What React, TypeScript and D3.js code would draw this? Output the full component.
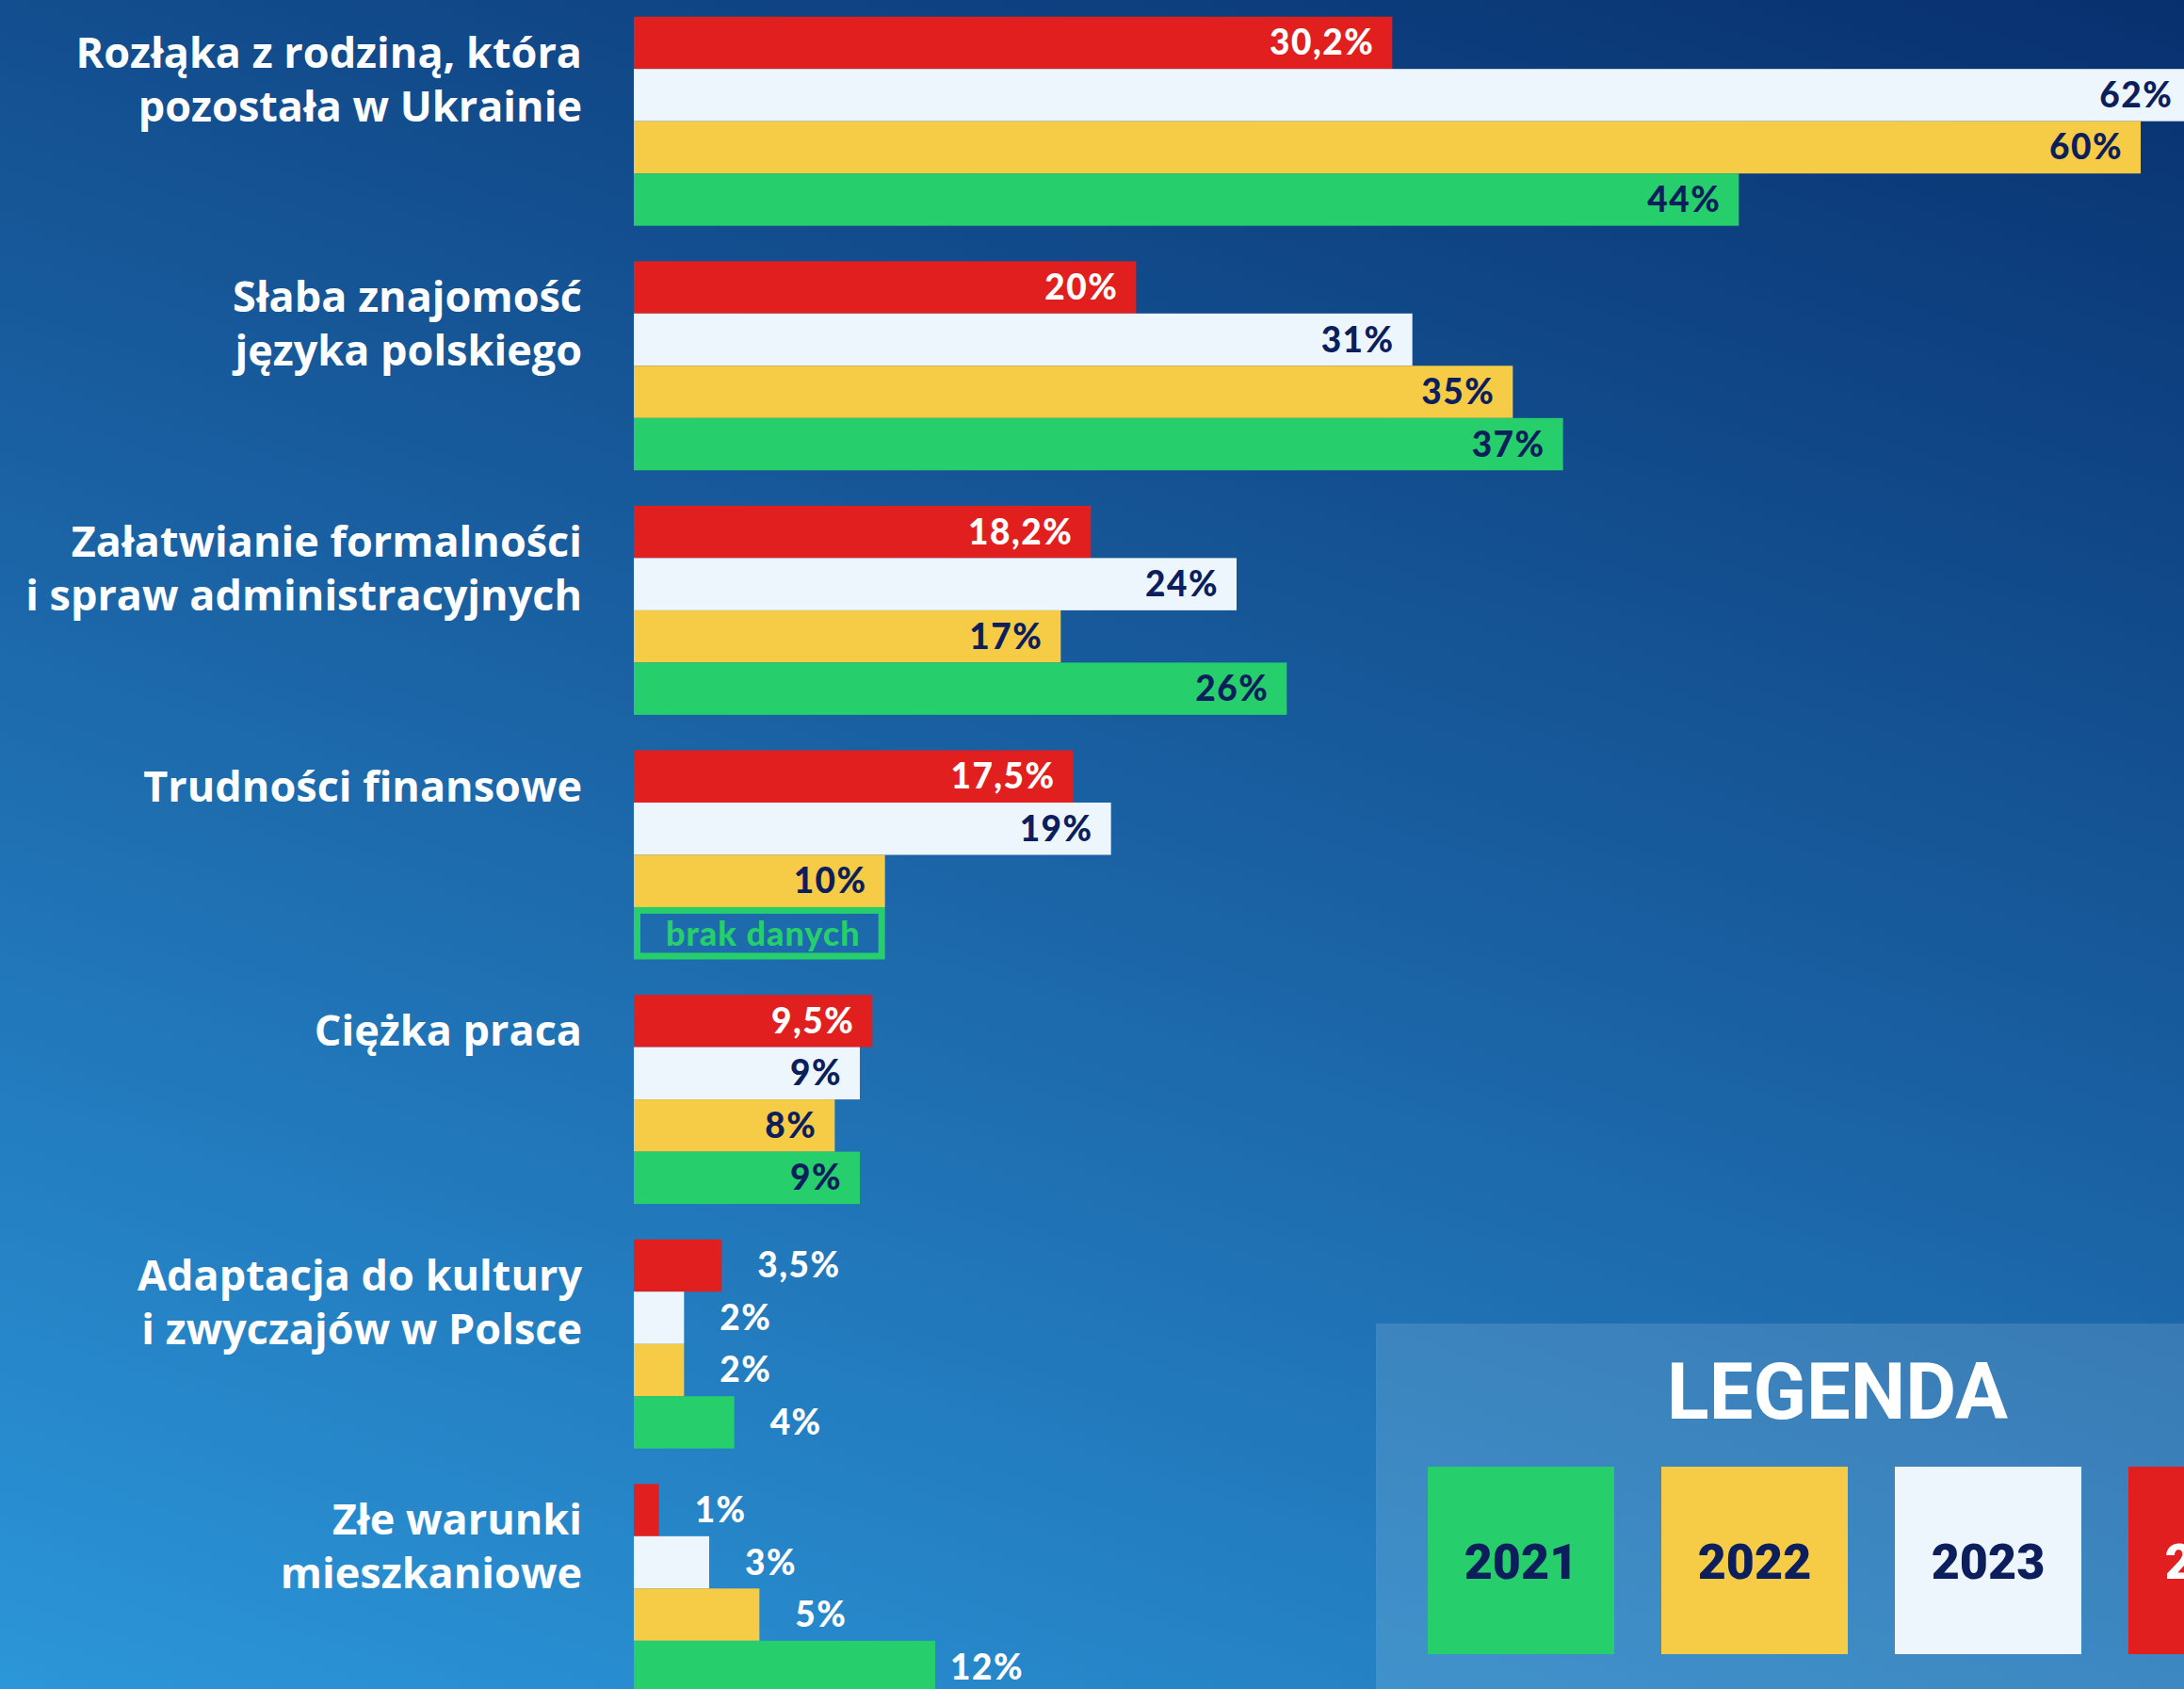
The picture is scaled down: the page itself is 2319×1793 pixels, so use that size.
import React from "react";
import * as d3 from "d3";

const W = 2319;
const H = 1793;

const categories = [
  "Rozłąka z rodziną, która\npozostała w Ukrainie",
  "Słaba znajomość\njęzyka polskiego",
  "Załatwianie formalności\ni spraw administracyjnych",
  "Trudności finansowe",
  "Ciężka praca",
  "Adaptacja do kultury\ni zwyczajów w Polsce",
  "Złe warunki\nmieszkaniowe",
];

const years = ["2024", "2023", "2022", "2021"];
const legendYears = ["2021", "2022", "2023", "2024"];

const values2024 = [30.2, 20, 18.2, 17.5, 9.5, 3.5, 1];
const values2023 = [62, 31, 24, 19, 9, 2, 3];
const values2022 = [60, 35, 17, 10, 8, 2, 5];
const values2021: (number | null)[] = [44, 37, 26, null, 9, 4, 12];

const noDataLabel = "brak danych";
const legendTitle = "LEGENDA";

const seriesByYear: Record<string, (number | null)[]> = {
  "2024": values2024,
  "2023": values2023,
  "2022": values2022,
  "2021": values2021,
};

const colorByYear: Record<string, string> = {
  "2024": "#e21f1f",
  "2023": "#eef6fd",
  "2022": "#f6cb45",
  "2021": "#26cf6b",
};
const navy = "#0c1f5c";

const fmt = (v: number) => String(v).replace(".", ",") + "%";

export default function App() {
  const x = d3.scaleLinear().domain([0, 60]).range([673, 2273]);
  const y = d3
    .scaleBand<string>()
    .domain(categories)
    .range([17.7, 17.7 + 7 * 259.6 - 37.6])
    .paddingInner(0.145)
    .paddingOuter(0);
  const yInner = d3
    .scaleBand<string>()
    .domain(years)
    .range([0, y.bandwidth()])
    .padding(0);

  const labelFont = "Lato, 'Open Sans', sans-serif";
  const catFont = "'Open Sans', Roboto, sans-serif";
  const legFont = "Roboto, 'Noto Sans', sans-serif";
  const outsideFrom = 5;

  const gx1 = W, gy1 = 0, gx2 = W - 765, gy2 = 2308;

  return (
    <svg
      width={W}
      height={H}
      viewBox={`0 0 ${W} ${H}`}
      style={{ position: "absolute", left: 0, top: 0, display: "block" }}
    >
      <defs>
        <linearGradient id="bg" gradientUnits="userSpaceOnUse" x1={gx1} y1={gy1} x2={gx2} y2={gy2}>
          <stop offset="0" stopColor="#08306f" />
          <stop offset="0.5" stopColor="#1a62a4" />
          <stop offset="1" stopColor="#2b96d9" />
        </linearGradient>
      </defs>
      <rect x={0} y={0} width={W} height={H} fill="url(#bg)" />

      {categories.map((c, i) => {
        const top = y(c)!;
        const lines = c.split("\n");
        return (
          <text
            key={"c" + i}
            x={618}
            y={top + 54}
            textAnchor="end"
            fill="#ffffff"
            fontFamily={catFont}
            fontWeight={700}
            fontSize={45}
          >
            {lines.map((l, j) => (
              <tspan key={j} x={618} dy={j === 0 ? 0 : 57}>
                {l}
              </tspan>
            ))}
          </text>
        );
      })}

      {categories.map((c, i) => {
        const top = y(c)!;
        return (
          <g key={"g" + i}>
            {years.map((yr) => {
              const v = seriesByYear[yr][i];
              const by = top + yInner(yr)!;
              const bh = yInner.bandwidth();
              const cy = by + bh / 2;
              if (v === null) {
                const bw = x(values2022[i]!) - x(0);
                return (
                  <g key={yr}>
                    <rect
                      x={x(0) + 3.5}
                      y={by + 3.5}
                      width={bw - 7}
                      height={bh - 7}
                      fill="none"
                      stroke={colorByYear[yr]}
                      strokeWidth={7}
                    />
                    <text
                      x={x(0) + bw / 2 + 4}
                      y={cy + 13}
                      textAnchor="middle"
                      fill={colorByYear[yr]}
                      fontFamily={labelFont}
                      fontWeight={900}
                      fontSize={36}
                      letterSpacing={1}
                    >
                      {noDataLabel}
                    </text>
                  </g>
                );
              }
              const xe = x(v);
              const outside = i >= outsideFrom;
              const gap = v >= 10 ? 16 : 38;
              return (
                <g key={yr}>
                  <rect x={x(0)} y={by} width={xe - x(0)} height={bh} fill={colorByYear[yr]} />
                  <text
                    x={outside ? xe + gap : xe - 19}
                    y={cy + 13}
                    textAnchor={outside ? "start" : "end"}
                    fill={outside || yr === "2024" ? "#ffffff" : navy}
                    fontFamily={labelFont}
                    fontWeight={900}
                    fontSize={37}
                    letterSpacing={1.5}
                  >
                    {fmt(v)}
                  </text>
                </g>
              );
            })}
          </g>
        );
      })}

      <g>
        <rect x={1461} y={1405} width={W - 1461} height={H - 1405} fill="#ffffff" fillOpacity={0.13} />
        <text
          x={1951}
          y={1506}
          textAnchor="middle"
          fill="#ffffff"
          fontFamily={legFont}
          fontWeight={700}
          fontSize={83}
        >
          {legendTitle}
        </text>
        {legendYears.map((yr, k) => {
          const lx = 1516 + k * 248;
          return (
            <g key={yr}>
              <rect x={lx} y={1557} width={198} height={199} fill={colorByYear[yr]} />
              <text
                x={lx + 99}
                y={1676}
                textAnchor="middle"
                fill={yr === "2024" ? "#ffffff" : navy}
                fontFamily={legFont}
                fontWeight={900}
                fontSize={52}
              >
                {yr}
              </text>
            </g>
          );
        })}
      </g>
    </svg>
  );
}
